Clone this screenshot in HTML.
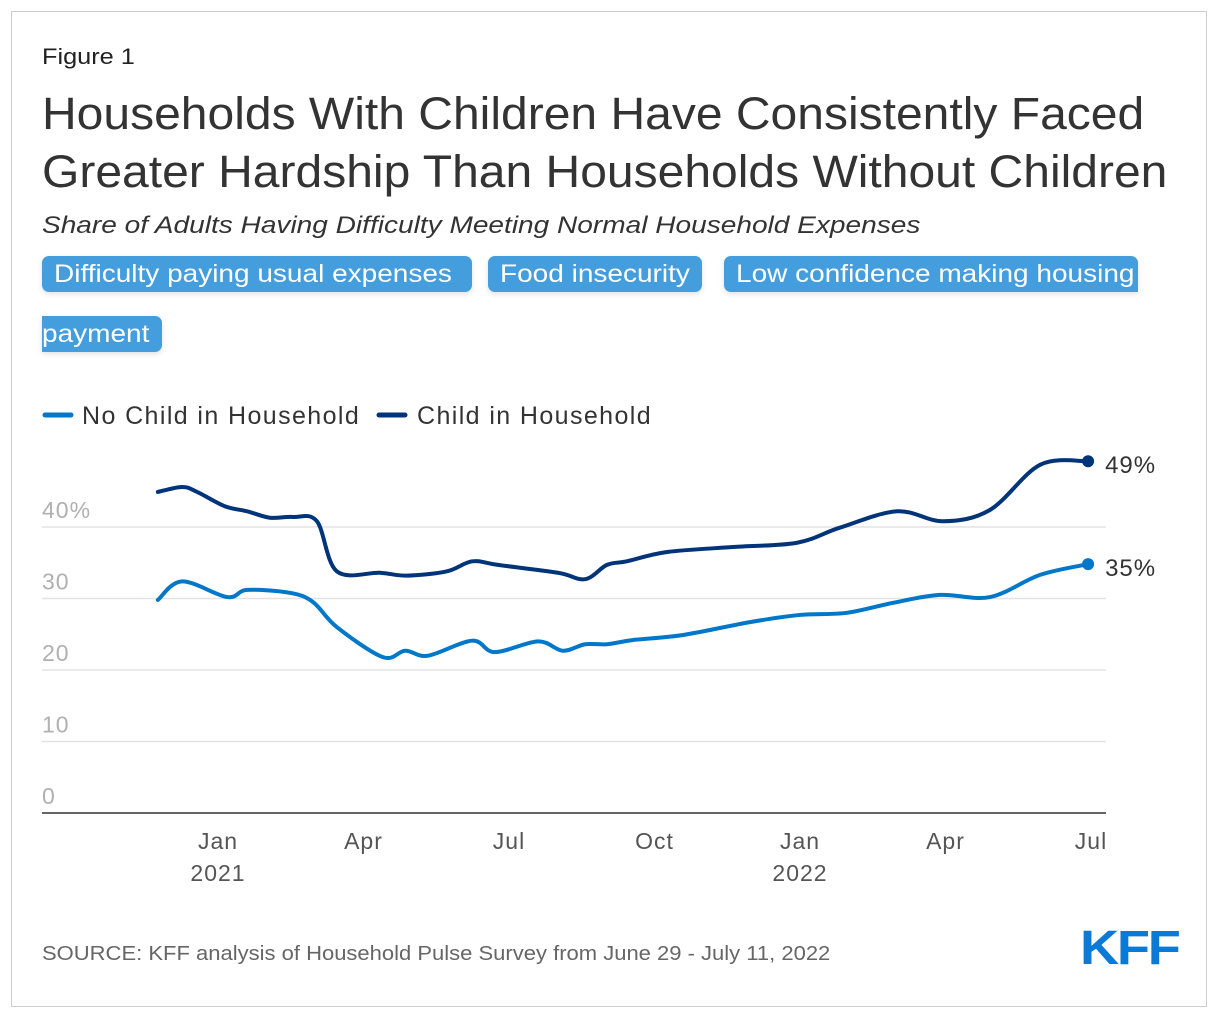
<!DOCTYPE html>
<html><head><meta charset="utf-8"><style>
body{margin:0;width:1220px;height:1020px;background:#fff;font-family:"Liberation Sans",Arial,sans-serif;position:relative;overflow:hidden}
.frame{position:absolute;left:11px;top:11px;width:1196px;height:996px;border:1px solid #ccc;box-sizing:border-box}
.abs{position:absolute;white-space:nowrap;transform-origin:left top}
.btn{position:absolute;height:36px;line-height:36px;background:#449ede;color:#fff;font-size:25px;border-radius:7px;padding:0 12px;box-sizing:border-box;box-shadow:0 2px 6px rgba(0,0,0,0.12)}
.btn span{display:inline-block;transform:scaleX(1.12);transform-origin:left center}
</style></head><body>
<div class="frame"></div>
<div class="abs" style="left:42px;top:44px;font-size:22px;color:#222;transform:scaleX(1.15)">Figure 1</div>
<div class="abs" style="left:42px;top:85px;font-size:45px;line-height:58px;color:#333;transform:scaleX(1.067)">Households With Children Have Consistently Faced<br>Greater Hardship Than Households Without Children</div>
<div class="abs" style="left:42px;top:212px;font-size:24.5px;font-style:italic;color:#333;transform:scaleX(1.145)">Share of Adults Having Difficulty Meeting Normal Household Expenses</div>
<div class="btn" style="left:42px;top:256px;width:430px"><span>Difficulty paying usual expenses</span></div>
<div class="btn" style="left:488px;top:256px;width:214px"><span>Food insecurity</span></div>
<div class="btn" style="left:724px;top:256px;width:414px;border-radius:7px 7px 0 7px"><span>Low confidence making housing</span></div>
<div class="btn" style="left:42px;top:316px;width:120px;padding-left:0;border-radius:0 7px 7px 0"><span>payment</span></div>
<svg width="1220" height="1020" style="position:absolute;left:0;top:0" id="chart"></svg>
<div class="abs" style="left:42px;top:943px;font-size:20px;color:#666;transform:scaleX(1.1)">SOURCE: KFF analysis of Household Pulse Survey from June 29 - July 11, 2022</div>
<div class="abs" style="left:1080px;top:921px;font-size:48px;font-weight:bold;color:#0a7ad8;letter-spacing:-2px;transform:scaleX(1.13)">KFF</div>
<script>
// months relative to Jan 2021 (0)
const darkMonths=[-1.24,-0.74,-0.43,0.14,0.6,1.07,1.55,2.04,2.45,3.34,3.9,4.72,5.24,5.77,7.01,7.57,8.02,8.43,9.26,10.62,11.94,12.82,14.0,14.95,15.92,16.95,17.94];
const darkValues=[44.9,45.6,44.9,42.9,42.2,41.3,41.4,40.8,33.8,33.6,33.2,33.8,35.2,34.7,33.6,32.7,34.7,35.2,36.5,37.2,37.8,39.9,42.2,40.8,42.4,48.7,49.2];
const lightMonths=[-1.24,-0.74,0.19,0.6,1.48,1.96,2.45,3.4,3.86,4.33,5.24,5.71,6.6,7.11,7.57,8.02,8.56,9.59,10.97,12.0,12.97,13.92,14.89,15.92,16.95,17.94];
const lightValues=[29.8,32.4,30.2,31.2,30.8,29.5,26.0,21.8,22.7,22.0,24.1,22.5,24.0,22.7,23.6,23.6,24.2,24.9,26.7,27.7,28.0,29.4,30.5,30.2,33.3,34.8];
const yTicks=[0,10,20,30,40];
const yTickLabels=["0","10","20","30","40%"];
const xTickMonths=[0,3,6,9,12,15,18];
const xTickLabels=["Jan","Apr","Jul","Oct","Jan","Apr","Jul"];
const xYearMonths=[0,12];
const xYearLabels=["2021","2022"];
const endLabels=["49%","35%"];

const NS="http://www.w3.org/2000/svg";
const svg=document.getElementById('chart');
const X=m=>218+m*48.5;
const Y=v=>813-v*7.15;
function mk(t,a,txt){const e=document.createElementNS(NS,t);for(const k in a)e.setAttribute(k,a[k]);if(txt!=null)e.textContent=txt;svg.appendChild(e);return e;}
yTicks.forEach((v,i)=>{
  if(v>0){const g=mk('line',{x1:42,x2:1106,y1:Y(v),y2:Y(v),stroke:'#e3e3e3','stroke-width':1.5});
  
  }
  const t=mk('text',{x:42,y:Y(v)-9,'font-size':23,'letter-spacing':1,fill:'#b0b0b0','font-family':'Liberation Sans, sans-serif'},yTickLabels[i]);
  
  
});
const ax=mk('line',{x1:42,x2:1106,y1:Y(0),y2:Y(0),stroke:'#333','stroke-width':1.5});


xTickMonths.forEach((m,i)=>{
  const t=mk('text',{x:X(m),y:849,'font-size':23,'letter-spacing':1,fill:'#555','text-anchor':'middle','font-family':'Liberation Sans, sans-serif'},xTickLabels[i]);
  
  
});
xYearMonths.forEach((m,i)=>{
  const t=mk('text',{x:X(m),y:881,'font-size':23,'letter-spacing':1,fill:'#555','text-anchor':'middle','font-family':'Liberation Sans, sans-serif'},xYearLabels[i]);
  
  
});
function path(ms,vs){
  const p=ms.map((m,i)=>[X(m),Y(vs[i])]);
  let d='M'+p[0][0]+','+p[0][1];
  for(let i=0;i<p.length-1;i++){
    const p0=p[i-1]||p[i],p1=p[i],p2=p[i+1],p3=p[i+2]||p2;
    const c1=[p1[0]+(p2[0]-p0[0])/6,p1[1]+(p2[1]-p0[1])/6];
    const c2=[p2[0]-(p3[0]-p1[0])/6,p2[1]-(p3[1]-p1[1])/6];
    d+=' C'+c1+' '+c2+' '+p2;
  }
  return d;
}
const series=[[darkMonths,darkValues,'#003479','child-in-household'],[lightMonths,lightValues,'#0077c8','no-child-in-household']];
series.forEach((s,i)=>{
  const l=mk('path',{d:path(s[0],s[1]),fill:'none',stroke:s[2],'stroke-width':4,'stroke-linejoin':'round','stroke-linecap':'round'});
  
  
  const n=s[0].length-1;
  const c=mk('circle',{cx:X(s[0][n]),cy:Y(s[1][n]),r:6,fill:s[2]});
  
  
  const t=mk('text',{x:X(s[0][n])+17,y:Y(s[1][n])+12,'font-size':24,'letter-spacing':1,fill:'#333','font-family':'Liberation Sans, sans-serif'},endLabels[i]);
  
  
});
// legend
const l1=mk('line',{x1:45,x2:71,y1:415,y2:415,stroke:'#0077c8','stroke-width':5,'stroke-linecap':'round'});


const t1=mk('text',{x:82,y:424,'font-size':25,'letter-spacing':1.4,fill:'#333','font-family':'Liberation Sans, sans-serif'},'No Child in Household');


const l2=mk('line',{x1:379,x2:405,y1:415,y2:415,stroke:'#003479','stroke-width':5,'stroke-linecap':'round'});


const t2=mk('text',{x:417,y:424,'font-size':25,'letter-spacing':1.4,fill:'#333','font-family':'Liberation Sans, sans-serif'},'Child in Household');


</script>
</body></html>
